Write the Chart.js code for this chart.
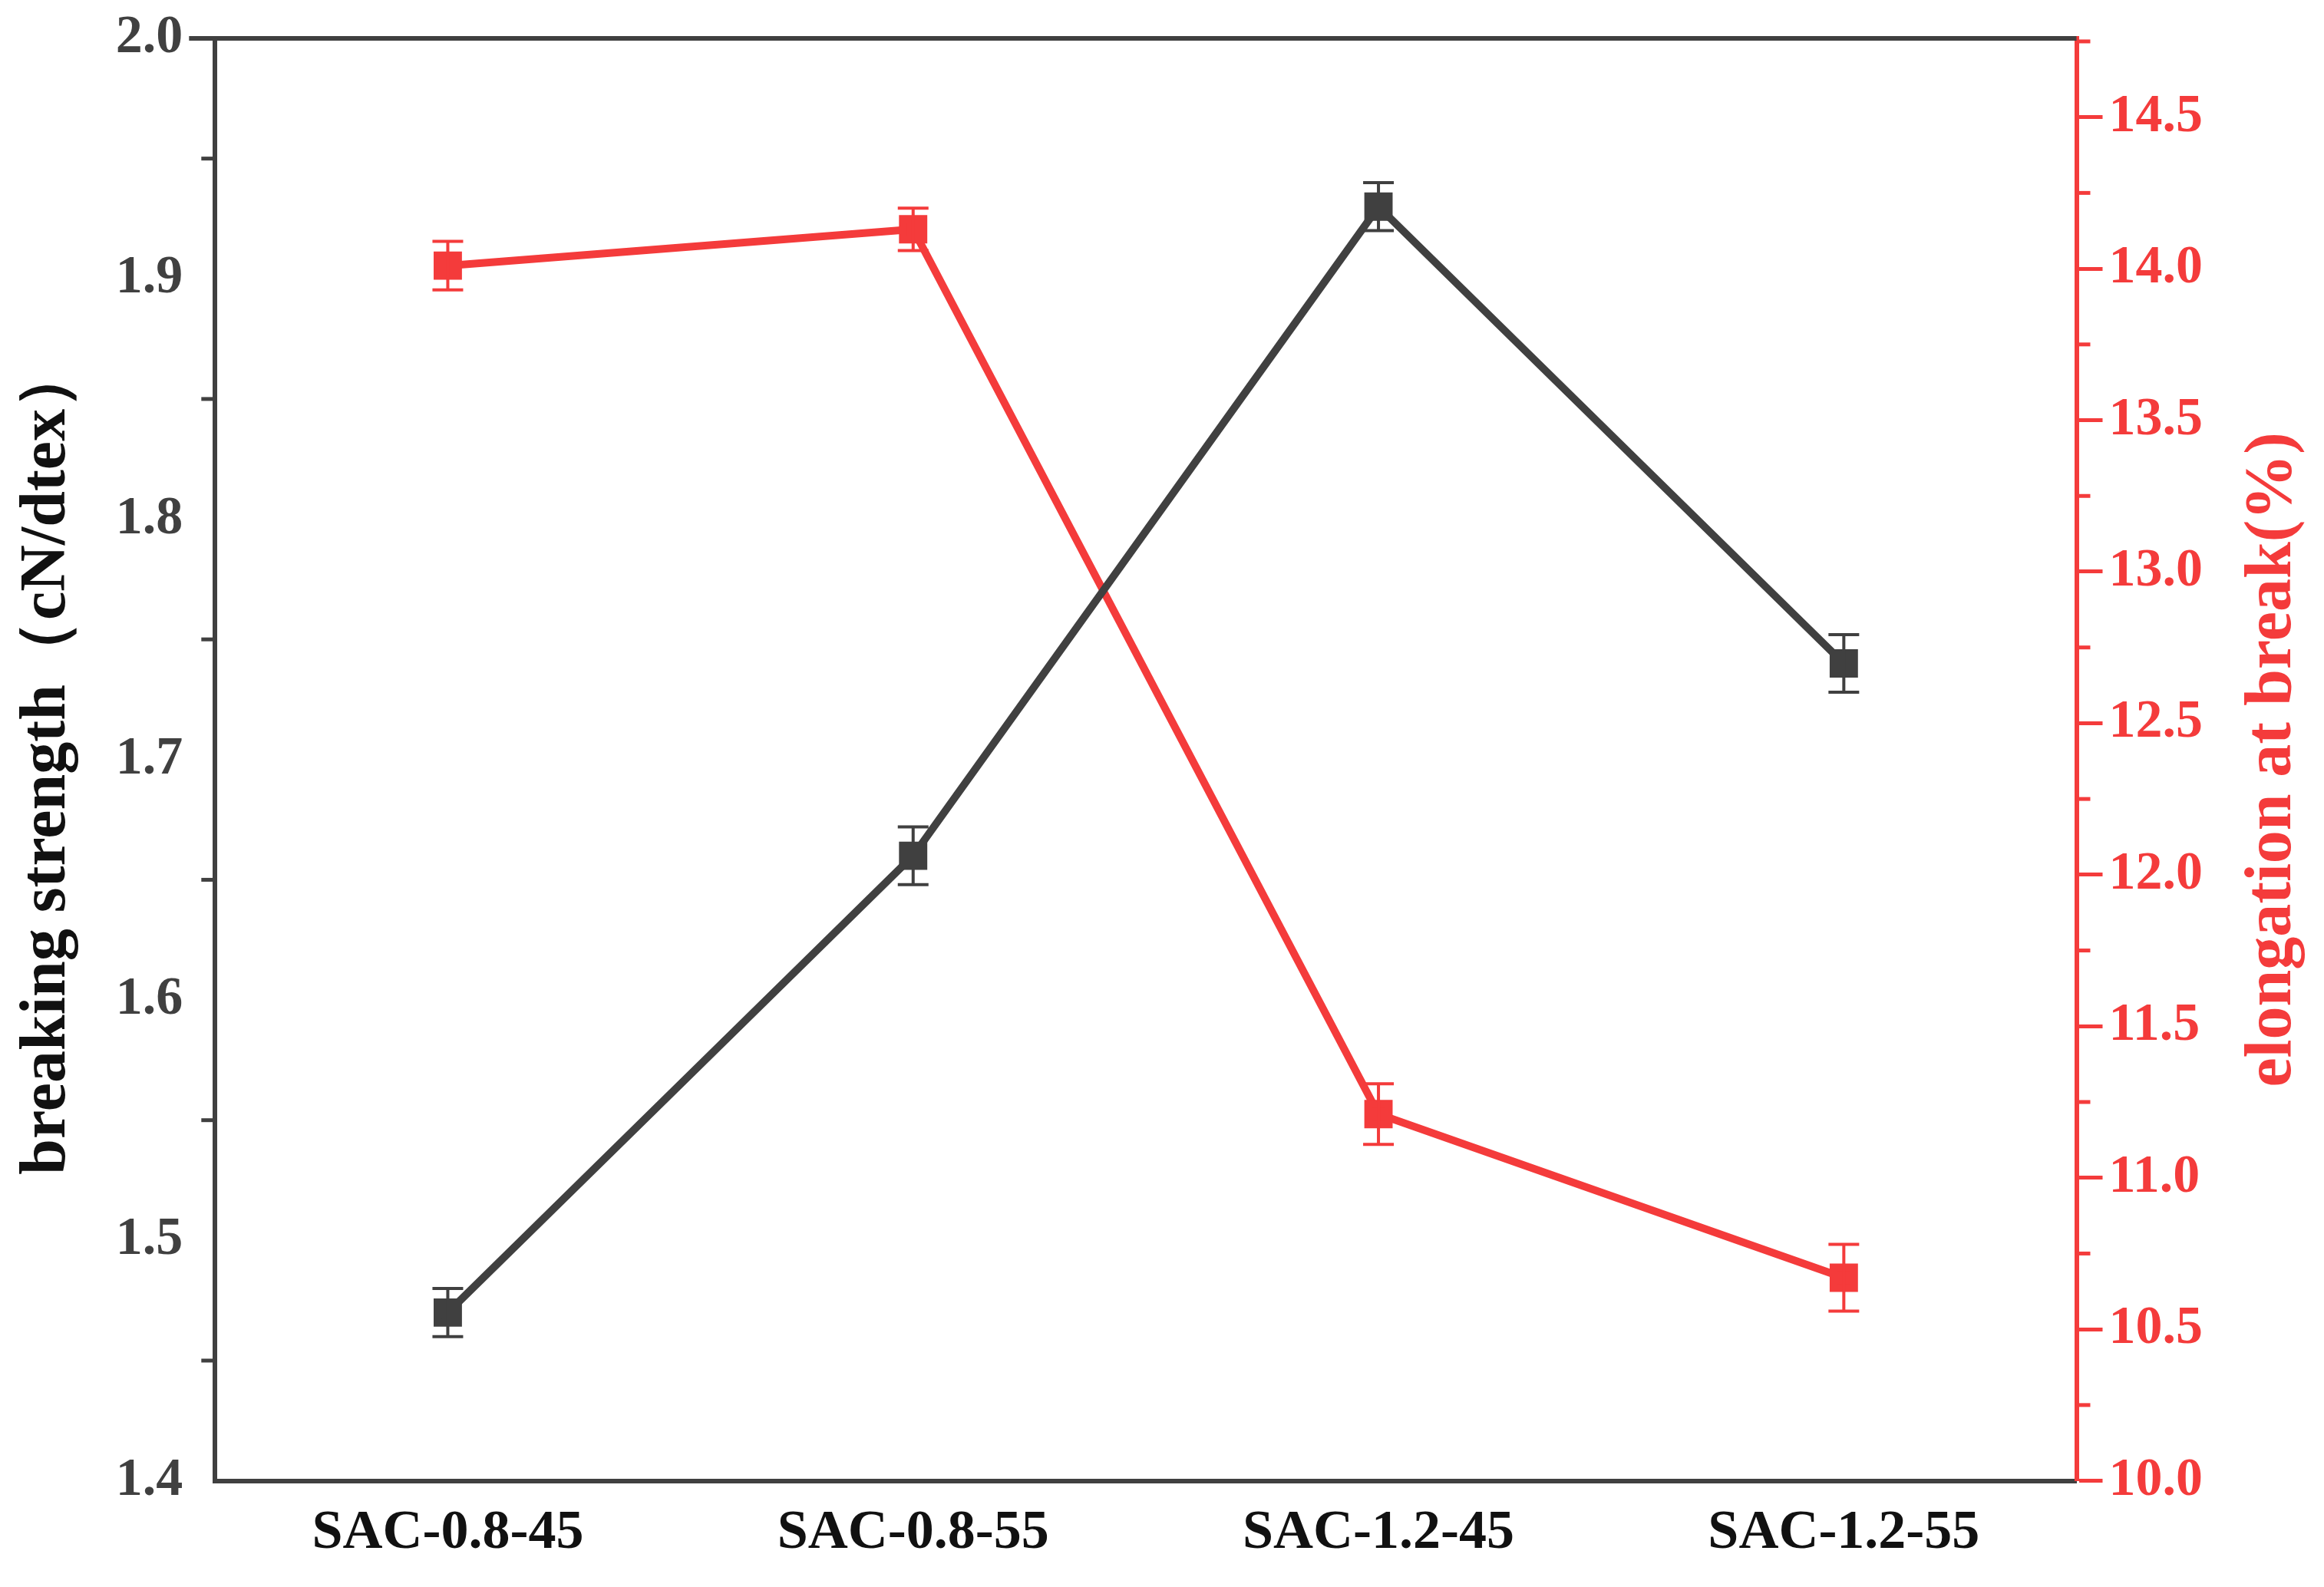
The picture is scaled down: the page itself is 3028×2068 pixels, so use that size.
<!DOCTYPE html>
<html>
<head>
<script src="https://cdn.jsdelivr.net/npm/chart.js@4"></script>
<style>
  html, body { margin: 0; padding: 0; background: #fff; }
  #wrap { width: 3028px; height: 2068px; }
</style>
</head>
<body>
<div id="wrap"><canvas id="chart" width="3028" height="2068"></canvas></div>
<script>
const categories = ['SAC-0.8-45', 'SAC-0.8-55', 'SAC-1.2-45', 'SAC-1.2-55'];
const strength = [1.47, 1.66, 1.93, 1.74];
const strengthErr = [0.010, 0.012, 0.010, 0.012];
const elongation = [14.01, 14.13, 11.21, 10.67];
const elongationErr = [0.08, 0.07, 0.10, 0.11];

const BLACK = '#404040';
const RED = '#f43b3b';
const FONT = '"Liberation Serif", "Times New Roman", serif';

// error bars, minor ticks, top frame line and the right axis title
const extras = {
  id: 'extras',
  afterDatasetsDraw(chart) {
    const c = chart.ctx, x = chart.scales.x, yl = chart.scales.y, yr = chart.scales.y2;
    const a = chart.chartArea;
    c.save();
    const bars = (vals, errs, scale, color) => {
      c.strokeStyle = color; c.lineWidth = 4;
      vals.forEach((v, i) => {
        const px = x.getPixelForValue(i);
        const t = scale.getPixelForValue(v + errs[i]), b = scale.getPixelForValue(v - errs[i]);
        c.beginPath();
        c.moveTo(px, t); c.lineTo(px, b);
        c.moveTo(px - 20, t); c.lineTo(px + 20, t);
        c.moveTo(px - 20, b); c.lineTo(px + 20, b);
        c.stroke();
      });
    };
    bars(strength, strengthErr, yl, BLACK);
    bars(elongation, elongationErr, yr, RED);
    c.lineWidth = 5;
    c.strokeStyle = BLACK;
    for (let v = 1.45; v < 2.0; v += 0.1) {
      const py = yl.getPixelForValue(v);
      c.beginPath(); c.moveTo(a.left - 18, py); c.lineTo(a.left, py); c.stroke();
    }
    c.strokeStyle = RED;
    for (let v = 10.25; v < 14.76; v += 0.5) {
      const py = yr.getPixelForValue(v);
      c.beginPath(); c.moveTo(a.right, py); c.lineTo(a.right + 18, py); c.stroke();
    }
    c.strokeStyle = BLACK; c.lineWidth = 6;
    c.beginPath(); c.moveTo(a.left - 34, a.top); c.lineTo(a.right, a.top); c.stroke();
    // right title, reading bottom to top
    c.translate(2962, (a.top + a.bottom) / 2);
    c.rotate(-Math.PI / 2);
    c.fillStyle = RED;
    c.font = 'bold 86px ' + FONT;
    c.textAlign = 'center';
    c.textBaseline = 'middle';
    c.fillText('elongation at break(%)', 0, 0);
    c.restore();
  }
};

new Chart(document.getElementById('chart').getContext('2d'), {
  type: 'line',
  data: {
    labels: categories,
    datasets: [{
      data: strength,
      yAxisID: 'y',
      borderColor: BLACK,
      backgroundColor: BLACK,
      borderWidth: 10,
      pointStyle: 'rect',
      pointRadius: 19,
      pointHoverRadius: 19,
      tension: 0
    }, {
      data: elongation,
      yAxisID: 'y2',
      borderColor: RED,
      backgroundColor: RED,
      borderWidth: 10,
      pointStyle: 'rect',
      pointRadius: 19,
      pointHoverRadius: 19,
      tension: 0
    }]
  },
  options: {
    responsive: false,
    animation: false,
    devicePixelRatio: 1,
    layout: { padding: { top: 24, right: 150, bottom: 0, left: 8 } },
    plugins: { legend: { display: false }, tooltip: { enabled: false } },
    scales: {
      x: {
        offset: true,
        grid: { display: false, drawTicks: false },
        border: { color: BLACK, width: 6 },
        ticks: { color: '#111', font: { family: FONT, size: 72, weight: 'bold' }, padding: 26 }
      },
      y: {
        position: 'left',
        min: 1.4, max: 2.0,
        grid: { display: false, drawOnChartArea: false, tickLength: 34, tickWidth: 5, tickColor: BLACK },
        border: { color: BLACK, width: 6 },
        ticks: { stepSize: 0.1, color: BLACK, padding: 8, font: { family: FONT, size: 70, weight: 'bold' },
                 callback: v => v.toFixed(1) },
        title: { display: true, text: 'breaking strength（cN/dtex）', color: '#111',
                 font: { family: FONT, size: 84, weight: 'bold' }, padding: { bottom: 30 } }
      },
      y2: {
        position: 'right',
        min: 10, max: 14.76,
        grid: { display: true, drawOnChartArea: false, tickLength: 34, tickWidth: 5, tickColor: RED },
        border: { color: RED, width: 6 },
        afterBuildTicks: s => { s.ticks = [10, 10.5, 11, 11.5, 12, 12.5, 13, 13.5, 14, 14.5].map(v => ({ value: v })); },
        ticks: { color: RED, padding: 8, font: { family: FONT, size: 70, weight: 'bold' },
                 callback: v => v.toFixed(1) }
      }
    }
  },
  plugins: [extras]
});
</script>
</body>
</html>
